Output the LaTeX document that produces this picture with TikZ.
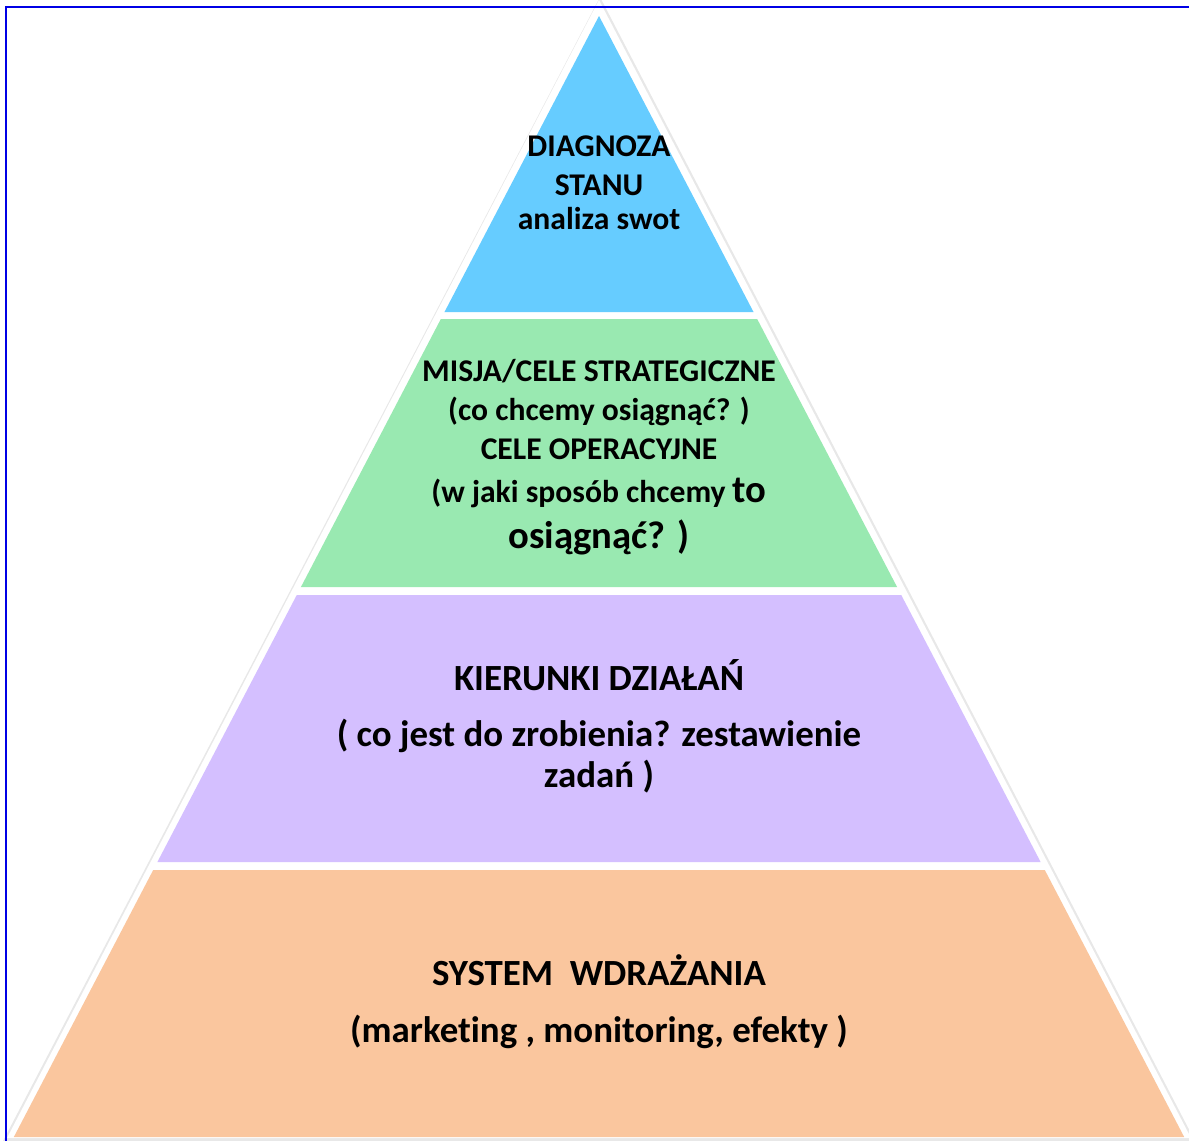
\documentclass[tikz,border=0pt]{standalone}
\usepackage{fontspec}
\setmainfont{Carlito}[Ligatures={NoCommon}]
\usetikzlibrary{positioning}

\definecolor{tierblue}{RGB}{102,204,255}
\definecolor{tiergreen}{RGB}{153,233,177}
\definecolor{tierviolet}{RGB}{212,191,255}
\definecolor{tierorange}{RGB}{250,198,158}

%% One band of the pyramid
% #1=name, #2=fill color, #3=top y, #4=bottom y
\newcommand{\Tier}[4]{
    \coordinate (#1-tl) at ({599-0.522*(#3-16)},#3);
    \coordinate (#1-tr) at ({599+0.522*(#3-16)},#3);
    \coordinate (#1-br) at ({599+0.522*(#4-16)},#4);
    \coordinate (#1-bl) at ({599-0.522*(#4-16)},#4);
    \fill[#2] (#1-tl) -- (#1-tr) -- (#1-br) -- (#1-bl) -- cycle;
}

\begin{document}
\begin{tikzpicture}[x=0.02cm,y=-0.02cm]
\tikzset{
  tiertext/.style={anchor=base, inner sep=0pt, font=\bfseries\fontsize{18}{21}\selectfont},
  tierbig/.style={tiertext, font=\bfseries\fontsize{22}{26}\selectfont},
  tierwide/.style={tiertext, font=\bfseries\fontsize{21}{25}\selectfont},
}
\useasboundingbox (0,0) rectangle (1189,1140);

%% ========== PYRAMID OUTLINE ==========
\fill[black!9] (600,-3) -- (1195,1141) -- (3,1141) -- cycle;
\fill[white] (599,0) -- (1191,1138) -- (7,1138) -- cycle;

%% ========== BANDS ==========
\Tier{diag}{tierblue}{16}{312}
\Tier{misja}{tiergreen}{319}{587}
\Tier{kier}{tierviolet}{595}{862}
\Tier{sys}{tierorange}{870}{1137}

%% ========== TEXTS ==========
% Diagnoza
\node[tiertext] (diag-a) at (599,156) {DIAGNOZA};
\node[tiertext] (diag-b) at (599,195) {STANU};
\node[tiertext] (diag-c) at (599,229) {analiza swot};

% Misja / cele
\node[tiertext] (misja-a) at (599,381) {MISJA/CELE STRATEGICZNE};
\node[tiertext] (misja-b) at (599,420) {(co chcemy osiągnąć? )};
\node[tiertext] (misja-c) at (599,459) {CELE OPERACYJNE};
\node[tiertext] (misja-d) at (599,502) {(w jaki sposób chcemy {\fontsize{22}{26}\selectfont to}};
\node[tierbig] (misja-e) at (599,548) {osiągnąć? )};

% Kierunki
\node[tierwide] (kier-a) at (599,690) {KIERUNKI DZIAŁAŃ};
\node[tierwide] (kier-b) at (599,746) {( co jest do zrobienia? zestawienie};
\node[tierwide] (kier-c) at (599,787) {zadań )};

% System
\node[tierwide] (sys-a) at (599,985) {SYSTEM\ \ WDRAŻANIA};
\node[tierwide] (sys-b) at (599,1042) {(marketing , monitoring, efekty )};

%% ========== FRAME ==========
\draw[blue!90!black, line width=1.1pt] (6,1200) -- (6,7) -- (1250,7);

\end{tikzpicture}
\end{document}
